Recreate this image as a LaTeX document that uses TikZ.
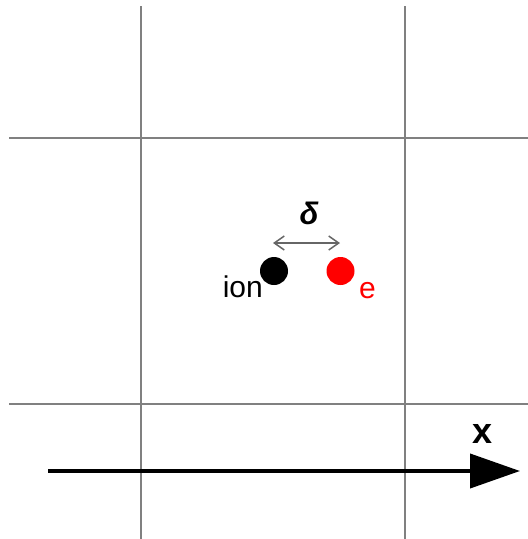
\documentclass[tikz,border=0pt]{standalone}
\usepackage{fontspec}
\setmainfont{Liberation Sans}
\usetikzlibrary{arrows.meta}
\tikzset{
  gridline/.style={draw=black!50, line width=2pt},
  particle/.style={circle, inner sep=0pt, minimum size=28pt},
  lbl/.style={inner sep=0pt, font=\fontsize{30}{32}\selectfont},
}
\begin{document}
\begin{tikzpicture}[x=1pt,y=-1pt]
\useasboundingbox (0,0) rectangle (528,539);
% grid
\draw[gridline] (141,6) -- (141,539);
\draw[gridline] (405,6) -- (405,539);
\draw[gridline] (9,138) -- (528,138);
\draw[gridline] (9,404) -- (528,404);
% x axis
\coordinate (xs) at (48,471);
\coordinate (xe) at (520,471);
\draw[line width=4pt, -{Triangle[length=50pt,width=34pt]}] (xs) -- (xe);
\node[inner sep=0pt, font=\bfseries\fontsize{36}{38}\selectfont] (xl) at (483,434) {x};
% particles
\node[particle, fill=black] (ion) at (274,271) {};
\node[particle, fill=red] (el) at (340.5,271) {};
\node[lbl, anchor=base east] (ionl) at (263,297) {ion};
\node[lbl, anchor=base west, text=red] (ell) at (359,298) {e};
% delta
\coordinate (dl) at (273,243);
\coordinate (dr) at (340,243);
\draw[black!60, line width=1.5pt, {Straight Barb[length=10pt,width=14pt]}-{Straight Barb[length=10pt,width=14pt]}] (dl) -- (dr);
\node[inner sep=0pt, font=\bfseries\itshape\fontsize{31}{33}\selectfont] (dlt) at (309,213) {δ};
\end{tikzpicture}
\end{document}
